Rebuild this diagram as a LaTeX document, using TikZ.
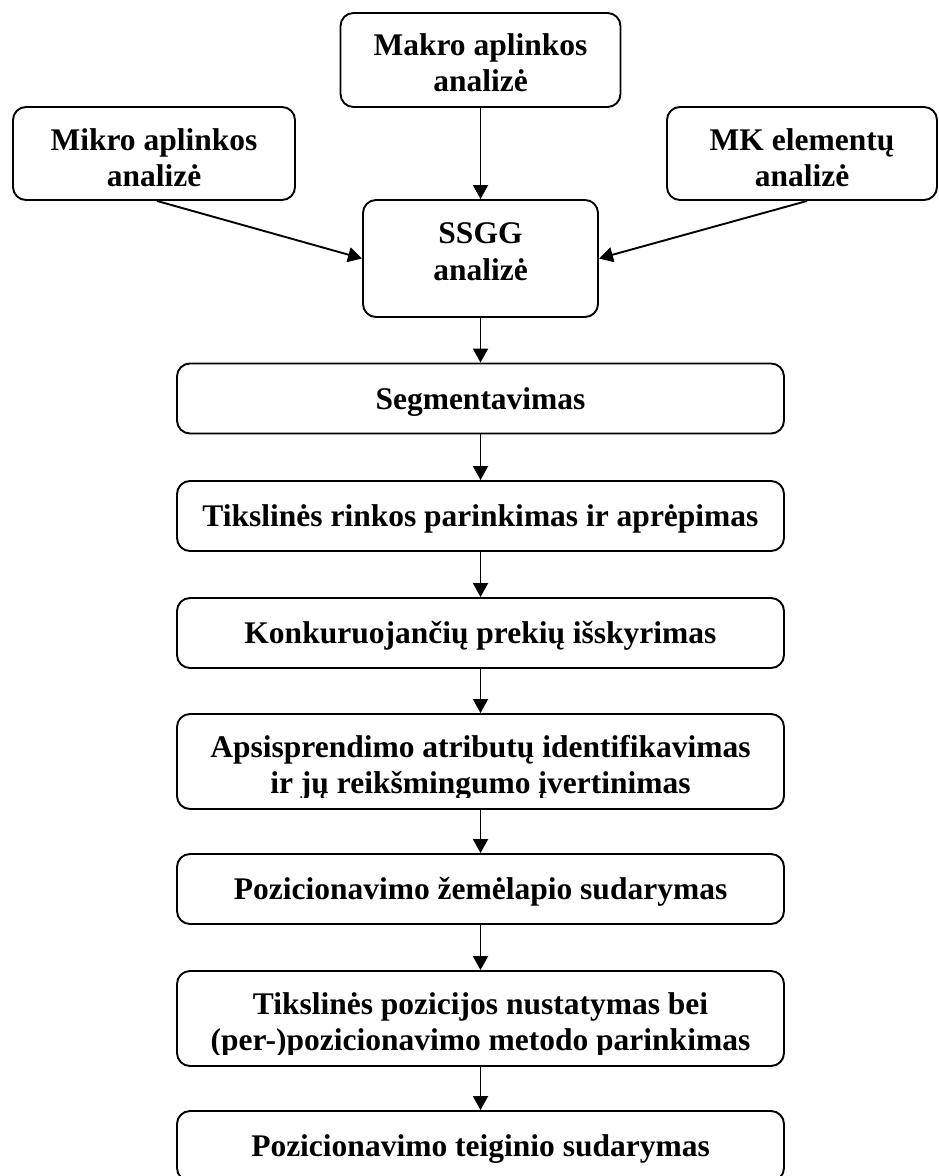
\documentclass[tikz,border=0pt]{standalone}
\usepackage{fontspec}
\setmainfont{Liberation Serif}
\usetikzlibrary{arrows.meta}
\begin{document}
\begin{tikzpicture}[x=1pt,y=-1pt,
  box/.style={draw,line width=1.9pt,rounded corners=13pt,inner sep=0pt},
  wide/.style={box,minimum width=607pt,minimum height=70pt},
  lbl/.style={anchor=base,inner sep=0pt,font=\fontsize{31.5}{36}\selectfont\bfseries},
  flow/.style={line width=1.9pt,-{Triangle[width=15pt,length=14pt]}}]
\useasboundingbox (0,0) rectangle (938,1176);
\clip (0,0) rectangle (938,1176);

% top row and the SSGG box
\node[box,minimum width=280pt,minimum height=94pt] (makro) at (480.5,60) {};
\node[box,minimum width=282pt,minimum height=93pt] (mikro) at (154,153.5) {};
\node[box,minimum width=270pt,minimum height=93pt] (mk) at (802,153.5) {};
\node[box,minimum width=235pt,minimum height=117pt] (ssgg) at (480.5,258.5) {};

\node[lbl] (makro1) at (480.5,55) {Makro aplinkos};
\node[lbl] (makro2) at (480.5,91) {analizė};
\node[lbl] (mikro1) at (154,150) {Mikro aplinkos};
\node[lbl] (mikro2) at (154,186) {analizė};
\node[lbl] (mk1) at (802,150) {MK elementų};
\node[lbl] (mk2) at (802,186) {analizė};
\node[lbl] (ssgg1) at (480.5,243) {SSGG};
\node[lbl] (ssgg2) at (480.5,280) {analizė};

% main sequence of steps
\node[wide] (seg) at (480.5,398.5) {};
\node[wide] (trink) at (480.5,516) {};
\node[wide] (konk) at (480.5,633) {};
\node[wide,minimum height=95pt] (aps) at (480.5,761.5) {};
\node[wide] (pzem) at (480.5,889) {};
\node[wide,minimum height=95pt] (tpoz) at (480.5,1018.5) {};
\node[wide] (pteig) at (480.5,1146) {};

\node[lbl] (seg1) at (480.5,409) {Segmentavimas};
\node[lbl] (trink1) at (480.5,526.5) {Tikslinės rinkos parinkimas ir aprėpimas};
\node[lbl] (konk1) at (480.5,643.5) {Konkuruojančių prekių išskyrimas};
\node[lbl] (aps1) at (480.5,757) {Apsisprendimo atributų identifikavimas};
\begin{scope}
  \clip (180,770) rectangle (780,797);
  \node[lbl] (aps2) at (480.5,793) {ir jų reikšmingumo įvertinimas};
\end{scope}
\node[lbl] (pzem1) at (480.5,899.5) {Pozicionavimo žemėlapio sudarymas};
\node[lbl] (tpoz1) at (480.5,1014) {Tikslinės pozicijos nustatymas bei};
\begin{scope}
  \clip (180,1027) rectangle (780,1054);
  \node[lbl] (tpoz2) at (480.5,1050) {(per-)pozicionavimo metodo parinkimas};
\end{scope}
\node[lbl] (pteig1) at (480.5,1156.5) {Pozicionavimo teiginio sudarymas};

% connectors
\draw[flow] (makro.south) -- (ssgg.north);
\draw[flow] ([xshift=3pt]mikro.south) -- (ssgg.west);
\draw[flow] ([xshift=5pt]mk.south) -- (ssgg.east);
\draw[flow] (ssgg.south) -- (seg.north);
\draw[flow] (seg.south) -- (trink.north);
\draw[flow] (trink.south) -- (konk.north);
\draw[flow] (konk.south) -- (aps.north);
\draw[flow] (aps.south) -- (pzem.north);
\draw[flow] (pzem.south) -- (tpoz.north);
\draw[flow] (tpoz.south) -- (pteig.north);
\end{tikzpicture}
\end{document}
